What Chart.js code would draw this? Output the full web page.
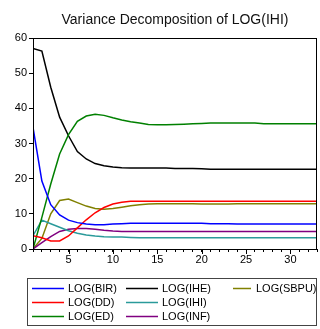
<!DOCTYPE html>
<html>
<head>
<meta charset="utf-8">
<script src="https://cdn.jsdelivr.net/npm/chart.js@4/dist/chart.umd.min.js"></script>
<style>
  html, body { margin: 0; padding: 0; background: #fff; }
  #wrap { position: relative; width: 320px; height: 329px; }
</style>
</head>
<body>
<div id="wrap"><canvas id="chart-ihi" width="320" height="329"></canvas></div>
<script>
const periods = Array.from({ length: 33 }, (_, i) => i + 1)

const bir  = [34.6, 19.3, 12.6, 9.7, 8.2, 7.5, 7.1, 6.9, 6.9, 7.1, 7.2, 7.3, 7.3, 7.3, 7.3, 7.3, 7.3, 7.3, 7.3, 7.3, 7.2, 7.2, 7.2, 7.1, 7.1, 7.1, 7.1, 7.1, 7.1, 7.1, 7.1, 7.1, 7.1]
const dd   = [3.8, 3.2, 2.3, 2.3, 3.7, 6.0, 8.3, 10.3, 11.8, 12.8, 13.3, 13.6, 13.6, 13.6, 13.6, 13.6, 13.6, 13.6, 13.6, 13.6, 13.6, 13.6, 13.6, 13.6, 13.6, 13.6, 13.6, 13.6, 13.6, 13.6, 13.6, 13.6, 13.6]
const ed   = [0.0, 9.0, 18.5, 27.0, 32.5, 36.3, 37.8, 38.3, 38.0, 37.3, 36.7, 36.2, 35.8, 35.4, 35.3, 35.3, 35.4, 35.5, 35.6, 35.7, 35.8, 35.8, 35.8, 35.8, 35.8, 35.8, 35.6, 35.6, 35.6, 35.6, 35.6, 35.6, 35.6]
const ihe  = [57.0, 56.3, 46.0, 37.5, 32.2, 27.7, 25.6, 24.3, 23.7, 23.3, 23.1, 23.0, 23.0, 23.0, 23.0, 23.0, 22.9, 22.9, 22.9, 22.8, 22.7, 22.7, 22.7, 22.7, 22.7, 22.7, 22.7, 22.7, 22.7, 22.7, 22.7, 22.7, 22.7]
const ihi  = [3.8, 8.2, 7.2, 6.2, 5.2, 4.5, 4.0, 3.7, 3.5, 3.4, 3.4, 3.3, 3.2, 3.2, 3.2, 3.2, 3.2, 3.2, 3.2, 3.2, 3.2, 3.2, 3.2, 3.2, 3.2, 3.2, 3.2, 3.2, 3.2, 3.2, 3.2, 3.2, 3.2]
const inf  = [0.0, 1.8, 3.5, 5.0, 5.6, 5.8, 5.8, 5.6, 5.3, 5.1, 5.0, 5.0, 5.0, 5.0, 5.0, 5.0, 5.0, 5.0, 5.0, 5.0, 5.0, 5.0, 5.0, 5.0, 5.0, 5.0, 5.0, 5.0, 5.0, 5.0, 5.0, 5.0, 5.0]
const sbpu = [0.0, 3.0, 10.0, 13.8, 14.2, 13.2, 12.2, 11.5, 11.3, 11.5, 11.9, 12.3, 12.6, 12.8, 12.9, 12.9, 12.9, 12.9, 12.9, 12.8, 12.8, 12.8, 12.8, 12.9, 12.9, 12.9, 12.9, 12.9, 12.9, 12.9, 12.9, 12.9, 12.9]

const seriesNames = ["LOG(BIR)", "LOG(DD)", "LOG(ED)", "LOG(IHE)", "LOG(IHI)", "LOG(INF)", "LOG(SBPU)"]
const seriesData = [bir, dd, ed, ihe, ihi, inf, sbpu]
const colors = ["#0000ff", "#ff0000", "#008000", "#000000", "#2a9a9a", "#800080", "#808000"]
const yTicks = [0, 10, 20, 30, 40, 50, 60]
const xLabels = [5, 10, 15, 20, 25, 30]

const FONT = "'Liberation Sans', Arial, sans-serif"

// title, box around plot area, longer major ticks, legend in 3 columns
const frame = {
  id: "frame",
  afterDraw(chart) {
    const ctx = chart.ctx
    const a = chart.chartArea
    const xs = chart.scales.x
    ctx.save()
    ctx.strokeStyle = "#000"
    ctx.lineWidth = 1
    ctx.strokeRect(Math.round(a.left) + 0.5, Math.round(a.top) + 0.5, Math.round(a.right - a.left) - 1, Math.round(a.bottom - a.top))

    ctx.beginPath()
    xLabels.forEach(v => {
      const px = Math.round(xs.getPixelForValue(v)) + 0.5
      ctx.moveTo(px, a.bottom)
      ctx.lineTo(px, a.bottom + 5)
    })
    ctx.stroke()

    ctx.fillStyle = "#111"
    ctx.font = "14px " + FONT
    ctx.textAlign = "center"
    ctx.textBaseline = "middle"
    ctx.fillText("Variance Decomposition of LOG(IHI)", (a.left + a.right) / 2, 20)

    // legend
    ctx.strokeStyle = "#444"
    ctx.strokeRect(27.5, 278.5, 289, 47)
    const cols = [{ x0: 32, x1: 64, tx: 68 }, { x0: 126, x1: 158, tx: 162 }, { x0: 233, x1: 251, tx: 256 }]
    const rows = [288, 302, 316]
    ctx.font = "11px " + FONT
    ctx.textAlign = "left"
    chart.data.datasets.forEach((ds, i) => {
      const c = cols[Math.floor(i / 3)]
      const y = rows[i % 3]
      ctx.strokeStyle = ds.borderColor
      ctx.lineWidth = 1.5
      ctx.beginPath()
      ctx.moveTo(c.x0, y + 0.5)
      ctx.lineTo(c.x1, y + 0.5)
      ctx.stroke()
      ctx.fillStyle = "#000"
      ctx.fillText(ds.label, c.tx, y + 1)
    })
    ctx.restore()
  }
}

new Chart(document.getElementById("chart-ihi"), {
  type: "line",
  data: {
    datasets: seriesNames.map((name, i) => ({
      label: name,
      data: periods.map((p, j) => ({ x: p, y: seriesData[i][j] })),
      borderColor: colors[i],
      borderWidth: 1.5,
      pointRadius: 0,
      tension: 0,
      fill: false
    }))
  },
  options: {
    responsive: false,
    animation: false,
    layout: { padding: { top: 38, right: 3, bottom: 60, left: 0 } },
    plugins: {
      legend: { display: false },
      title: { display: false },
      tooltip: { enabled: false }
    },
    scales: {
      x: {
        type: "linear",
        min: 1,
        max: 33,
        afterBuildTicks: s => { s.ticks = periods.map(v => ({ value: v })) },
        afterFit: s => { s.height = 20 },
        grid: { drawOnChartArea: false, drawTicks: true, tickLength: 3, color: "#000" },
        border: { display: false },
        ticks: {
          autoSkip: false,
          maxRotation: 0,
          padding: 1,
          color: "#000",
          font: { family: FONT, size: 11 },
          callback: v => xLabels.includes(v) ? String(v) : ""
        }
      },
      y: {
        min: 0,
        max: 60,
        afterBuildTicks: s => { s.ticks = yTicks.map(v => ({ value: v })) },
        afterFit: s => { s.width = 33 },
        grid: { drawOnChartArea: false, drawTicks: true, tickLength: 4, color: "#000" },
        border: { display: false },
        ticks: {
          padding: 2,
          color: "#000",
          font: { family: FONT, size: 11 }
        }
      }
    }
  },
  plugins: [frame]
})
</script>
</body>
</html>
